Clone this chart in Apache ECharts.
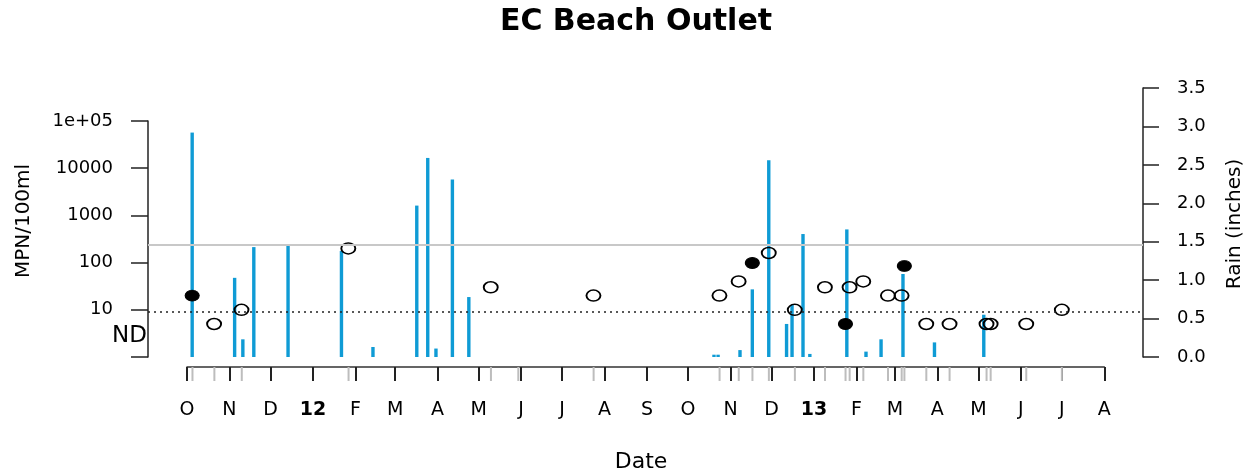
<!DOCTYPE html>
<html>
<head>
<meta charset="utf-8">
<script src="https://cdn.jsdelivr.net/npm/echarts@6/dist/echarts.min.js"></script>
<style>
html,body{margin:0;padding:0;background:#fff;}
#chart{width:1255px;height:475px;}
</style>
</head>
<body>
<div id="chart"></div>
<script>
// ---- Data ----
const rainDates = ['2011-10-05','2011-11-05','2011-11-11','2011-11-19','2011-12-14','2012-01-22','2012-02-14',
  '2012-03-17','2012-03-25','2012-03-31','2012-04-12','2012-04-24','2012-10-20','2012-10-23','2012-11-08',
  '2012-11-17','2012-11-29','2012-12-12','2012-12-16','2012-12-24','2012-12-29','2013-01-25','2013-02-08',
  '2013-02-19','2013-03-07','2013-03-30','2013-05-05'];
const rainValues = [2.92,1.03,0.23,1.43,1.45,1.38,0.13,1.97,2.59,0.11,2.31,0.78,0.03,0.03,0.09,
  0.88,2.56,0.43,0.68,1.60,0.04,1.66,0.07,0.23,1.08,0.19,0.55];

const sampleDates = ['2011-10-05','2011-10-21','2011-11-10','2012-01-27','2012-05-10','2012-07-24','2012-10-24',
  '2012-11-07','2012-11-17','2012-11-29','2012-12-18','2013-01-09','2013-01-24','2013-01-27','2013-02-06',
  '2013-02-24','2013-03-06','2013-03-08','2013-03-24','2013-04-10','2013-05-07','2013-05-10','2013-06-05','2013-07-01'];
const sampleValues = [20,'ND',10,200,30,20,20,40,98,160,10,30,'ND',30,40,20,20,85,'ND','ND','ND','ND','ND',10];
const sampleFilled = [true,false,false,false,false,false,false,false,true,false,false,false,true,false,false,
  false,false,true,false,false,false,false,false,false];
const unplottedSampleDates = ['2012-05-30'];

const tickLabels = ['O','N','D','12','F','M','A','M','J','J','A','S','O','N','D','13','F','M','A','M','J','J','A'];
const standardLine = 235;
const detectionLine = 9;
const ndPlotValue = 5;

// ---- Build ----
const FONT = 'DejaVu Sans';
const ts = d => Date.parse(d + 'T00:00:00Z');
const monthTicks = tickLabels.map((_, i) => Date.UTC(2011, 9 + i, 1));
const xMin = monthTicks[0], xMax = monthTicks[monthTicks.length - 1];
const pad = (xMax - xMin) * 38.7 / 917.6;

const rainData = rainDates.map((d, i) => [ts(d), rainValues[i]]);
const openPts = [], filledPts = [];
sampleDates.forEach((d, i) => {
  const v = sampleValues[i] === 'ND' ? ndPlotValue : sampleValues[i];
  (sampleFilled[i] ? filledPts : openPts).push([ts(d), v]);
});
const rugData = sampleDates.concat(unplottedSampleDates).map(d => [ts(d), 0.5]);

const L = 148, R = 1255 - 1143;
const hiddenX = (gi) => ({type:'value', gridIndex: gi, min: xMin - pad, max: xMax + pad, show: false});

const option = {
  animation: false,
  backgroundColor: '#fff',
  textStyle: {fontFamily: FONT},
  grid: [
    {left: L, right: R, top: 121, bottom: 475 - 357},          // bacteria
    {left: L, right: R, top: 88, bottom: 475 - 357},           // rain
    {left: 187, right: 1255 - 1104.3, top: 357, bottom: 475 - 367}, // date axis
    {left: 187, right: 1255 - 1104.3, top: 367, bottom: 475 - 381}  // rug
  ],
  xAxis: [
    hiddenX(0),
    hiddenX(1),
    {type:'value', gridIndex: 2, min: xMin, max: xMax, position:'bottom',
     axisLine:{show:true, lineStyle:{color:'#333', width:1.5}},
     axisTick:{show:true, customValues: monthTicks, length:14, lineStyle:{color:'#222', width:2}},
     axisLabel:{show:true, customValues: monthTicks, margin: 34, fontFamily: FONT, fontSize: 19, color:'#000',
       formatter: (v) => {
         const i = monthTicks.findIndex(t => Math.abs(t - v) < 1000);
         if (i < 0) return '';
         const s = tickLabels[i];
         return /^\d+$/.test(s) ? '{yr|' + s + '}' : s;
       },
       rich: {yr: {fontWeight:'bold', fontSize: 19, fontFamily: FONT, color:'#000'}}},
     splitLine:{show:false}},
    {type:'value', gridIndex: 3, min: xMin, max: xMax, show: false}
  ],
  yAxis: [
    {type:'log', logBase:10, gridIndex:0, min:1, max:100000, position:'left',
     axisLine:{show:true, lineStyle:{color:'#222', width:1.5}},
     axisTick:{show:true, length:17, lineStyle:{color:'#222', width:1.5}},
     axisLabel:{margin:35, fontFamily: FONT, fontSize:18, color:'#000',
       formatter: v => { const r = Math.round(v); if (r === 1) return ''; if (r === 100000) return '1e+05'; return String(r); }},
     splitLine:{show:false}},
    {type:'value', gridIndex:1, min:0, max:3.5, interval:0.5, position:'right',
     axisLine:{show:true, lineStyle:{color:'#222', width:1.5}},
     axisTick:{show:true, length:16, lineStyle:{color:'#222', width:1.5}},
     axisLabel:{margin:34, fontFamily: FONT, fontSize:18, color:'#000', formatter: v => v.toFixed(1)},
     splitLine:{show:false}},
    {type:'value', gridIndex:2, min:0, max:1, show:false},
    {type:'value', gridIndex:3, min:0, max:1, show:false}
  ],
  series: [
    {type:'scatter', xAxisIndex:0, yAxisIndex:0, data:[], z:1, silent:true,
     markLine:{silent:true, symbol:['none','none'], label:{show:false},
       data:[
         {yAxis: standardLine, lineStyle:{color:'#c8c8c8', width:2, type:'solid'}},
         {yAxis: detectionLine, lineStyle:{color:'#222', width:1.6, type:[2,4]}}
       ]}},
    {type:'bar', xAxisIndex:1, yAxisIndex:1, data: rainData, barWidth:3.4, z:2,
     itemStyle:{color:'#0f9bd5', opacity:1}},
    {type:'scatter', xAxisIndex:0, yAxisIndex:0, data: openPts, symbol:'circle', symbolSize:[14,11], z:4,
     itemStyle:{color:'rgba(0,0,0,0)', borderColor:'#000', borderWidth:1.7, opacity:1}},
    {type:'scatter', xAxisIndex:0, yAxisIndex:0, data: filledPts, symbol:'circle', symbolSize:[14,11], z:5,
     itemStyle:{color:'#000', borderColor:'#000', borderWidth:1, opacity:1}},
    {type:'scatter', xAxisIndex:3, yAxisIndex:3, data: rugData, symbol:'rect', symbolSize:[2,14], z:1,
     itemStyle:{color:'#bdbdbd', opacity:1}}
  ],
  graphic: [
    {type:'text', x:636, y:22, style:{text:'EC Beach Outlet', font:'bold 30px "DejaVu Sans"', fill:'#000',
      textAlign:'center', textVerticalAlign:'middle'}},
    {type:'text', x:641, y:462, style:{text:'Date', font:'22px "DejaVu Sans"', fill:'#000',
      textAlign:'center', textVerticalAlign:'middle'}},
    {type:'text', x:24, y:221, rotation: Math.PI/2, style:{text:'MPN/100ml', font:'20px "DejaVu Sans"', fill:'#000',
      textAlign:'center', textVerticalAlign:'middle'}},
    {type:'text', x:1235, y:224, rotation: Math.PI/2, style:{text:'Rain (inches)', font:'20px "DejaVu Sans"', fill:'#000',
      textAlign:'center', textVerticalAlign:'middle'}},
    {type:'text', x:147, y:336, style:{text:'ND', font:'23px "DejaVu Sans"', fill:'#000',
      textAlign:'right', textVerticalAlign:'middle'}}
  ]
};
const chart = echarts.init(document.getElementById('chart'), null, {renderer:'canvas'});
chart.setOption(option);
</script>
</body>
</html>
